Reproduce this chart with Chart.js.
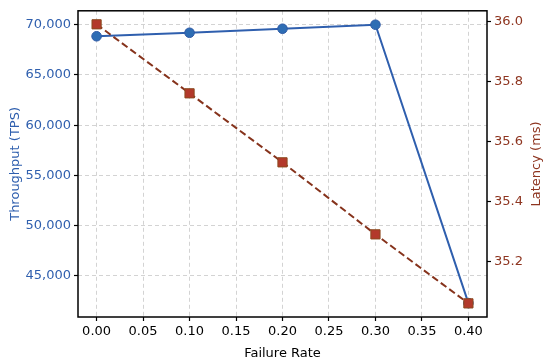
<!DOCTYPE html>
<html>
<head>
<meta charset="utf-8">
<script src="https://cdn.jsdelivr.net/npm/chart.js@4"></script>
<style>
  html, body { margin: 0; padding: 0; background: #fff; }
  #wrap { width: 550px; height: 361px; }
</style>
</head>
<body>
<div id="wrap"><canvas id="myChart" width="550" height="361"></canvas></div>
<script>
const failureRate = [0.0, 0.1, 0.2, 0.3, 0.4];
const throughput = [68850, 69200, 69600, 70000, 42300];
const latency = [35.99, 35.76, 35.53, 35.29, 35.06];
const xTicks = [0, 0.05, 0.1, 0.15, 0.2, 0.25, 0.3, 0.35, 0.4];
const tpsTicks = [45000, 50000, 55000, 60000, 65000, 70000];
const latTicks = [35.2, 35.4, 35.6, 35.8, 36.0];

const blue = '#2f5fae';
const red = '#8e3520';
const font = { family: 'DejaVu Sans', size: 13 };

// black frame around the plot area + right axis title (reads bottom to top)
const frame = {
    id: 'frame',
    afterDraw(chart) {
        const a = chart.chartArea, ctx = chart.ctx;
        ctx.save();
        ctx.strokeStyle = '#000';
        ctx.lineWidth = 1.5;
        ctx.strokeRect(a.left, a.top, a.right - a.left, a.bottom - a.top);
        ctx.translate(537, (a.top + a.bottom) / 2);
        ctx.rotate(-Math.PI / 2);
        ctx.fillStyle = red;
        ctx.font = '13px "DejaVu Sans"';
        ctx.textAlign = 'center';
        ctx.textBaseline = 'middle';
        ctx.fillText('Latency (ms)', 0, 0);
        ctx.restore();
    }
};

function fixTicks(list) {
    return function(scale) { scale.ticks = list.map(v => ({ value: v })); };
}

let ctx = document.getElementById('myChart').getContext('2d');
let chart = new Chart(ctx, {
    type: 'line',
    data: {
        datasets: [{
            label: 'Throughput',
            data: failureRate.map((x, i) => ({ x: x, y: throughput[i] })),
            yAxisID: 'y',
            borderColor: blue,
            borderWidth: 2,
            pointRadius: 4.8,
            pointBackgroundColor: '#2e6db4',
            pointBorderColor: '#2f5aa6',
            pointBorderWidth: 1,
            order: 1
        }, {
            label: 'Latency',
            data: failureRate.map((x, i) => ({ x: x, y: latency[i] })),
            yAxisID: 'y1',
            borderColor: '#86331c',
            borderWidth: 2,
            borderDash: [7, 3.5],
            pointStyle: 'rect',
            pointRadius: 6.5,
            pointBackgroundColor: '#b3392b',
            pointBorderColor: '#8b4a1e',
            pointBorderWidth: 1,
            order: 0
        }]
    },
    options: {
        responsive: false,
        animation: false,
        layout: { padding: { top: 10, left: 0, right: 0, bottom: 0 } },
        plugins: { legend: { display: false }, tooltip: { enabled: false } },
        scales: {
            x: {
                type: 'linear',
                min: -0.02,
                max: 0.42,
                afterBuildTicks: fixTicks(xTicks),
                afterFit: s => { s.height = 44; },
                ticks: { font: font, color: '#000', padding: 3,
                    callback: v => v.toFixed(2) },
                grid: { color: '#c8c8c8', lineWidth: 0.8,
                    tickColor: '#000', tickLength: 4, tickBorderDash: [], tickWidth: 1.2 },
                border: { display: false, dash: [4, 3] },
                title: { display: true, text: 'Failure Rate', font: font, color: '#000', padding: { top: 0, bottom: 0 } }
            },
            y: {
                position: 'left',
                min: 40915,
                max: 71385,
                afterBuildTicks: fixTicks(tpsTicks),
                afterFit: s => { s.width = 78; },
                ticks: { font: font, color: blue, padding: 3,
                    callback: v => v.toLocaleString('en-US') },
                grid: { color: '#c8c8c8', lineWidth: 0.8,
                    tickColor: '#000', tickLength: 4, tickBorderDash: [], tickWidth: 1.2 },
                border: { display: false, dash: [4, 3] },
                title: { display: true, text: 'Throughput (TPS)', font: font, color: blue, padding: { top: 8, bottom: 0 } }
            },
            y1: {
                position: 'right',
                min: 35.0146,
                max: 36.035,
                afterBuildTicks: fixTicks(latTicks),
                afterFit: s => { s.width = 63; },
                ticks: { font: font, color: red, padding: 3,
                    callback: v => v.toFixed(1) },
                grid: { drawOnChartArea: false, tickColor: '#000', tickLength: 4, tickWidth: 1.2 },
                border: { display: false }
            }
        }
    },
    plugins: [frame]
});
</script>
</body>
</html>
